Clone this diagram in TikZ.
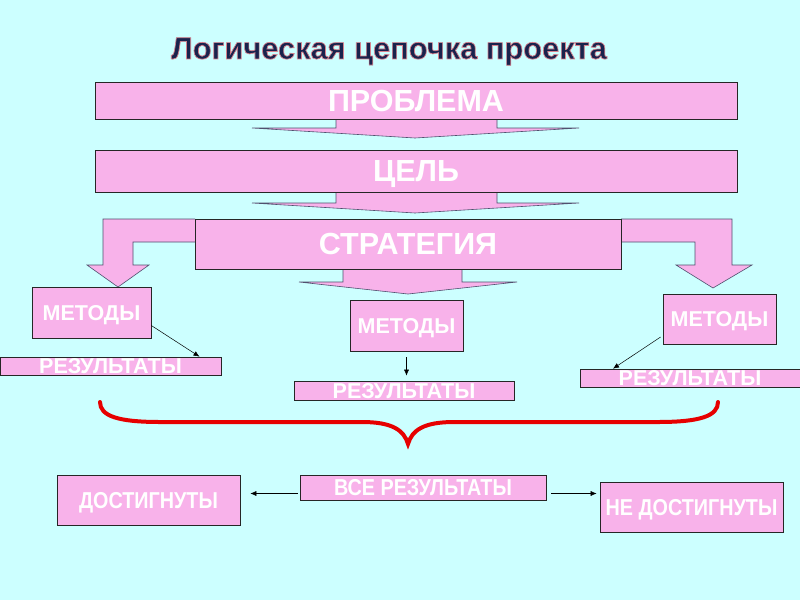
\documentclass[tikz,border=0pt]{standalone}
\usepackage{fontspec}
\setmainfont{Liberation Sans}
\newfontfamily\lowfont{Liberation Sans}[FakeStretch=0.86]
\usetikzlibrary{arrows.meta}
\definecolor{bg}{HTML}{CCFFFF}
\definecolor{pinkbox}{HTML}{F8B2EA}
\definecolor{navy}{HTML}{18234D}
\definecolor{bracered}{HTML}{E60000}
\definecolor{arrowedge}{HTML}{50506E}
\begin{document}
\begin{tikzpicture}[x=1pt,y=-1pt,
  box/.style={draw=black!85, line width=0.7pt, fill=pinkbox, inner sep=0pt, text=white},
  bigtext/.style={font=\bfseries\fontsize{30.5}{34}\selectfont, text height=21.8pt, text depth=0pt},
  midtext/.style={font=\bfseries\fontsize{21.5}{24}\selectfont, text height=15.4pt, text depth=0pt},
  lowtext/.style={font=\lowfont\bfseries\fontsize{23}{26}\selectfont, text height=16.5pt, text depth=0pt},
  bigarrow/.style={fill=pinkbox, draw=arrowedge, line width=0.6pt, line join=miter},
  thinarrow/.style={-{Latex[length=6pt,width=5pt]}, line width=0.5pt, draw=black}]
\useasboundingbox[fill=bg] (0,0) rectangle (800,600);

% title
\node[font=\bfseries\fontsize{30.8}{34}\selectfont, text=navy, inner sep=0pt] (title) at (389,51.5)
  {\special{pdf:literal direct 2 Tr 0.7 w 0.84 0.5 0.55 RG}Логическая цепочка проекта\special{pdf:literal direct 0 Tr}};

% block arrows
\draw[bigarrow] (336,119) -- (336,128) -- (252,128) -- (415,138) -- (579,128) -- (497,128) -- (497,119);
\draw[bigarrow] (336,192) -- (336,203) -- (252,203) -- (415,213) -- (579,203) -- (497,203) -- (497,192);
\draw[bigarrow] (195,219) -- (103,219) -- (103,265) -- (87,265) -- (118,287) -- (149,265) -- (133,265) -- (133,242) -- (195,242);
\draw[bigarrow] (621,219) -- (732,219) -- (732,265) -- (752,265) -- (713,288) -- (676,265) -- (695,265) -- (695,242) -- (621,242);
\draw[bigarrow] (343,269) -- (343,282) -- (299,282) -- (408,294) -- (517,282) -- (462,282) -- (462,269);

% main boxes
\node[box, bigtext, minimum width=642pt, minimum height=37pt] (problem) at (416,100.5) {ПРОБЛЕМА};
\node[box, bigtext, minimum width=642pt, minimum height=42pt] (goal) at (416,171) {ЦЕЛЬ};
\node[box, bigtext, minimum width=426pt, minimum height=50pt] (strategy) at (408,244) {СТРАТЕГИЯ};

% methods and results
\node[box, midtext, minimum width=119pt, minimum height=51pt] (m1) at (91.5,312.5) {МЕТОДЫ};
\node[box, midtext, minimum width=221pt, minimum height=18pt] (r1) at (110.5,366) {РЕЗУЛЬТАТЫ};
\node[box, midtext, minimum width=113pt, minimum height=51pt] (m2) at (406.5,325.5) {МЕТОДЫ};
\node[box, midtext, minimum width=220pt, minimum height=19pt] (r2) at (404,390.5) {РЕЗУЛЬТАТЫ};
\node[box, midtext, minimum width=113pt, minimum height=50pt] (m3) at (719.5,319) {МЕТОДЫ};
\node[box, midtext, minimum width=220pt, minimum height=18pt] (r3) at (690,378) {РЕЗУЛЬТАТЫ};

\draw[thinarrow] ([yshift=-13pt]m1.east) -- ([xshift=89pt]r1.north);
\draw[thinarrow, shorten <=6pt, shorten >=5pt] (m2.south) -- (m2.south |- r2.north);
\draw[thinarrow] ([yshift=-18pt,xshift=-2pt]m3.west) -- ([xshift=-77pt]r3.north);

% brace
\draw[bracered, line width=4pt, line cap=round]
  (100,402) .. controls (100,416) and (118,422) .. (160,422) -- (362,422)
  .. controls (392,422) and (404,430) .. (408,444)
  .. controls (412,430) and (424,422) .. (454,422) -- (658,422)
  .. controls (700,422) and (718,416) .. (718,402);

% bottom row
\node[box, lowtext, minimum width=246pt, minimum height=25pt] (all) at (423,487.5) {ВСЕ РЕЗУЛЬТАТЫ};
\node[box, lowtext, minimum width=183pt, minimum height=50pt] (yes) at (148.5,500) {ДОСТИГНУТЫ};
\node[box, lowtext, minimum width=183pt, minimum height=50pt] (no) at (691.5,507) {НЕ ДОСТИГНУТЫ};

\draw[thinarrow, shorten <=2pt, shorten >=10pt] ([yshift=-6pt]all.west) -- ([yshift=-6pt]all.west -| yes.east);
\draw[thinarrow, shorten <=5pt, shorten >=3pt] ([yshift=-6pt]all.east) -- ([yshift=-6pt]all.east -| no.west);
\end{tikzpicture}
\end{document}
